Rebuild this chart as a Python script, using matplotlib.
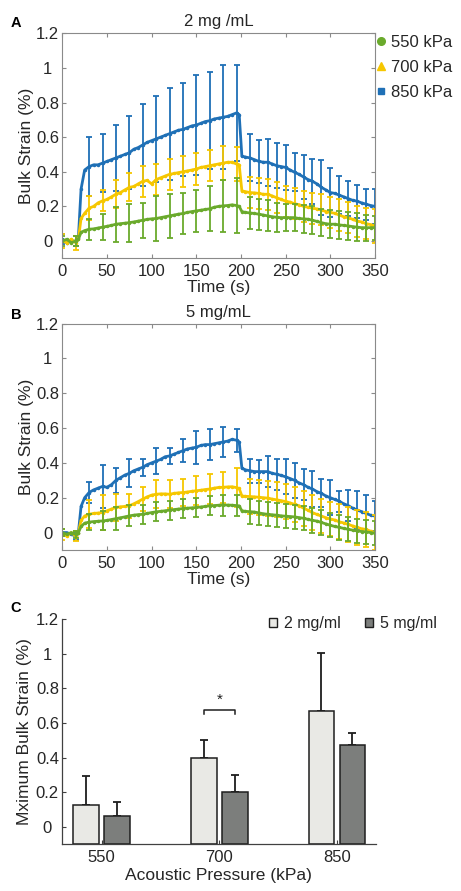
import numpy as np
import matplotlib
matplotlib.use('Agg')
import matplotlib.pyplot as plt
from matplotlib.patches import Patch
from matplotlib.lines import Line2D

plt.rcParams['font.family'] = ['Liberation Sans', 'DejaVu Sans']
TXT = '#262626'
plt.rcParams['text.color'] = TXT
plt.rcParams['axes.labelcolor'] = TXT
plt.rcParams['xtick.color'] = TXT
plt.rcParams['ytick.color'] = TXT

# ---------------- data ----------------
time_s = [0, 5, 10, 15, 18, 21,
          25, 30, 35, 40, 45, 50, 55, 60, 65, 70, 75, 80, 85, 90, 95, 100, 105, 110, 115, 120,
          125, 130, 135, 140, 145, 150, 155, 160, 165, 170, 175, 180, 185, 190, 195,
          198, 201,
          205, 210, 215, 220, 225, 230, 235, 240, 245, 250, 255, 260, 265, 270, 275, 280,
          285, 290, 295, 300, 305, 310, 315, 320, 325, 330, 335, 340, 345, 350]

# Panel A (2 mg/mL)
a_850 = [0.01, -0.01, 0.0, 0.0, 0.02, 0.30,
         0.41, 0.43, 0.44, 0.44, 0.45, 0.46, 0.47, 0.48, 0.49, 0.50,
         0.51, 0.53, 0.54, 0.555, 0.57, 0.58, 0.59, 0.60, 0.61, 0.62,
         0.63, 0.64, 0.645, 0.655, 0.665, 0.67, 0.68, 0.69, 0.695, 0.705,
         0.71, 0.715, 0.72, 0.73, 0.74,
         0.73, 0.49,
         0.485, 0.48, 0.47, 0.46, 0.455, 0.455, 0.445, 0.435, 0.43, 0.425,
         0.41, 0.397, 0.385, 0.37, 0.355, 0.345, 0.33, 0.31, 0.295, 0.28,
         0.275, 0.265, 0.255, 0.245, 0.235, 0.23, 0.22, 0.213, 0.205, 0.20]
a_700 = [0.0, -0.01, 0.01, -0.01, 0.01, 0.13,
         0.16, 0.19, 0.20, 0.22, 0.232, 0.24, 0.255, 0.27, 0.28, 0.295,
         0.31, 0.315, 0.33, 0.345, 0.35, 0.33, 0.355, 0.365, 0.375, 0.385,
         0.39, 0.395, 0.40, 0.405, 0.41, 0.416, 0.425, 0.43, 0.435, 0.44,
         0.445, 0.45, 0.455, 0.455, 0.445,
         0.44, 0.29,
         0.285, 0.28, 0.278, 0.275, 0.27, 0.27, 0.26, 0.25, 0.24, 0.23,
         0.225, 0.215, 0.21, 0.20, 0.195, 0.19, 0.185, 0.18, 0.17, 0.165,
         0.16, 0.15, 0.14, 0.135, 0.125, 0.115, 0.11, 0.10, 0.095, 0.087]
a_550 = [0.0, 0.01, -0.01, 0.0, 0.01, 0.05,
         0.06, 0.068, 0.07, 0.075, 0.08, 0.085, 0.09, 0.097, 0.10, 0.103,
         0.106, 0.11, 0.115, 0.12, 0.125, 0.128, 0.13, 0.135, 0.14, 0.145,
         0.15, 0.155, 0.159, 0.165, 0.17, 0.174, 0.178, 0.182, 0.186, 0.195,
         0.20, 0.203, 0.205, 0.209, 0.205,
         0.20, 0.17,
         0.165, 0.162, 0.159, 0.155, 0.15, 0.145, 0.14, 0.137, 0.135, 0.135,
         0.135, 0.135, 0.13, 0.128, 0.126, 0.12, 0.113, 0.106, 0.10, 0.097,
         0.097, 0.093, 0.09, 0.087, 0.083, 0.08, 0.077, 0.077, 0.077, 0.077]

# Panel B (5 mg/mL)
b_850 = [0.0, 0.0, -0.01, -0.02, 0.0, 0.15,
         0.20, 0.23, 0.245, 0.255, 0.265, 0.26, 0.275, 0.30, 0.315, 0.33,
         0.34, 0.355, 0.365, 0.375, 0.39, 0.40, 0.41, 0.42, 0.435, 0.44,
         0.45, 0.46, 0.47, 0.48, 0.485, 0.49, 0.50, 0.505, 0.505, 0.51,
         0.515, 0.52, 0.525, 0.535, 0.53,
         0.52, 0.37,
         0.36, 0.355, 0.35, 0.35, 0.35, 0.35, 0.34, 0.335, 0.328, 0.32,
         0.31, 0.30, 0.285, 0.275, 0.26, 0.25, 0.235, 0.225, 0.21, 0.20,
         0.19, 0.18, 0.165, 0.155, 0.14, 0.13, 0.12, 0.11, 0.10, 0.095]
b_700 = [-0.01, -0.02, 0.0, -0.02, 0.0, 0.07,
         0.095, 0.105, 0.11, 0.112, 0.115, 0.125, 0.135, 0.144, 0.148, 0.15,
         0.154, 0.165, 0.178, 0.192, 0.205, 0.215, 0.22, 0.222, 0.222, 0.22,
         0.225, 0.228, 0.23, 0.233, 0.237, 0.24, 0.243, 0.247, 0.25, 0.255,
         0.259, 0.26, 0.262, 0.263, 0.258,
         0.253, 0.21,
         0.208, 0.207, 0.205, 0.203, 0.20, 0.198, 0.192, 0.188, 0.183, 0.178,
         0.17, 0.162, 0.154, 0.14, 0.128, 0.115, 0.104, 0.095, 0.085, 0.078,
         0.072, 0.062, 0.055, 0.047, 0.038, 0.03, 0.022, 0.018, 0.008, 0.0]
b_550 = [0.0, -0.01, 0.0, -0.01, 0.0, 0.035,
         0.054, 0.06, 0.063, 0.065, 0.067, 0.07, 0.075, 0.08, 0.085, 0.09,
         0.096, 0.10, 0.103, 0.105, 0.11, 0.115, 0.119, 0.122, 0.125, 0.129,
         0.132, 0.135, 0.138, 0.14, 0.142, 0.144, 0.147, 0.15, 0.154, 0.155,
         0.157, 0.158, 0.158, 0.157, 0.155,
         0.153, 0.125,
         0.122, 0.12, 0.118, 0.113, 0.108, 0.105, 0.102, 0.10, 0.096, 0.094,
         0.092, 0.09, 0.086, 0.082, 0.076, 0.07, 0.066, 0.058, 0.05, 0.042,
         0.035, 0.03, 0.024, 0.019, 0.014, 0.01, 0.006, 0.004, 0.0, -0.004]

err_time = [0, 15, 30, 45, 60, 75, 90, 105, 120, 135, 150, 165, 180, 195,
            210, 220, 230, 240, 250, 260, 270, 280, 290, 300, 310, 320, 330, 340, 350]
a_850_err = [0.03, 0.03, 0.17, 0.166, 0.19, 0.21, 0.235, 0.25, 0.265, 0.27, 0.29, 0.28, 0.30, 0.275,
             0.136, 0.125, 0.135, 0.13, 0.13, 0.11, 0.125, 0.13, 0.16, 0.14, 0.11, 0.10, 0.095, 0.09, 0.10]
a_700_err = [0.04, 0.04, 0.07, 0.06, 0.08, 0.08, 0.09, 0.09, 0.09, 0.09, 0.09, 0.09, 0.10, 0.10,
             0.09, 0.09, 0.09, 0.09, 0.09, 0.09, 0.09, 0.09, 0.09, 0.09, 0.09, 0.09, 0.09, 0.09, 0.10]
a_550_err = [0.03, 0.03, 0.06, 0.077, 0.10, 0.11, 0.10, 0.13, 0.125, 0.12, 0.12, 0.13, 0.15, 0.16,
             0.09, 0.09, 0.09, 0.085, 0.08, 0.08, 0.08, 0.08, 0.08, 0.08, 0.08, 0.08, 0.08, 0.075, 0.07]
b_850_err = [0.02, 0.02, 0.06, 0.125, 0.07, 0.08, 0.05, 0.075, 0.045, 0.065, 0.095, 0.09, 0.085, 0.065,
             0.07, 0.065, 0.09, 0.09, 0.10, 0.10, 0.09, 0.105, 0.08, 0.10, 0.06, 0.09, 0.11, 0.107, 0.087]
b_700_err = [0.03, 0.03, 0.08, 0.10, 0.08, 0.07, 0.07, 0.08, 0.08, 0.08, 0.083, 0.085, 0.09, 0.11,
             0.10, 0.10, 0.10, 0.10, 0.10, 0.10, 0.10, 0.10, 0.10, 0.10, 0.10, 0.10, 0.10, 0.10, 0.10]
b_550_err = [0.02, 0.02, 0.045, 0.055, 0.065, 0.06, 0.055, 0.055, 0.055, 0.055, 0.055, 0.055, 0.06, 0.06,
             0.07, 0.07, 0.07, 0.07, 0.07, 0.07, 0.07, 0.07, 0.07, 0.07, 0.07, 0.07, 0.07, 0.07, 0.07]

pressure_labels = ['550', '700', '850']
series_labels = ['550 kPa', '700 kPa', '850 kPa']
max_2mg = [0.125, 0.395, 0.671]
max_2mg_err = [0.168, 0.105, 0.332]
max_5mg = [0.062, 0.199, 0.473]
max_5mg_err = [0.083, 0.101, 0.071]
conc_labels = ['2 mg/ml', '5 mg/ml']
sig_level = 0.675

ytick_vals = [0, 0.2, 0.4, 0.6, 0.8, 1.0, 1.2]
ytick_labels = ['0', '0.2', '0.4', '0.6', '0.8', '1', '1.2']
xtick_vals = [0, 50, 100, 150, 200, 250, 300, 350]

# ---------------- style ----------------
C550 = '#6aaa2c'
C700 = '#f6c700'
C850 = '#1f70b6'
SPINE = '#8a8a8a'
W, H = 461, 891
FS = 12

fig = plt.figure(figsize=(W / 100, H / 100), dpi=100)


def frac(left, top, right, bottom):
    return [left / W, 1 - bottom / H, (right - left) / W, (bottom - top) / H]


def ts_panel(ax, series, errs, title):
    for vals, ee, c in zip(series, errs, [C850, C700, C550]):
        ax.plot(time_s, vals, '-', color=c, lw=2.0, marker='.', ms=3, zorder=2)
        ev = [vals[time_s.index(t)] for t in err_time]
        ax.errorbar(err_time, ev, yerr=ee, fmt='none', ecolor=c, elinewidth=1.3,
                    capsize=2.5, capthick=1.3, zorder=2)
    ax.set_xlim(0, 350)
    ax.set_ylim(-0.1, 1.2)
    ax.set_xticks(xtick_vals)
    ax.set_yticks(ytick_vals)
    ax.set_yticklabels(ytick_labels, ha='center')
    ax.tick_params(direction='in', top=True, right=True, length=3, width=0.8,
                   color=SPINE, labelsize=FS)
    ax.tick_params(axis='x', pad=4)
    ax.tick_params(axis='y', pad=10.5)
    for s in ax.spines.values():
        s.set_color(SPINE)
        s.set_linewidth(0.8)
    ax.set_title(title, fontsize=FS, pad=5, color=TXT)
    ax.set_xlabel('Time (s)', fontsize=12.5)
    ax.set_ylabel('Bulk Strain (%)', fontsize=12.5)
    ax.xaxis.set_label_coords(0.5, -0.13)
    ax.xaxis.label.set_va('center')
    ax.yaxis.set_label_coords(-0.116, 0.5)
    ax.yaxis.label.set_va('center')


axA = fig.add_axes(frac(62.3, 33.3, 375, 258.3))
ts_panel(axA, [a_850, a_700, a_550], [a_850_err, a_700_err, a_550_err], '2 mg /mL')

axB = fig.add_axes(frac(62.3, 323.5, 375, 550))
ts_panel(axB, [b_850, b_700, b_550], [b_850_err, b_700_err, b_550_err], '5 mg/mL')

handles = [Line2D([], [], ls='none', marker='o', color=C550, ms=5.5),
           Line2D([], [], ls='none', marker='^', color=C700, ms=6),
           Line2D([], [], ls='none', marker='s', color=C850, ms=4.5)]
fig.legend(handles, series_labels, loc='upper left', bbox_to_anchor=(376 / W, 1 - 35 / H),
           frameon=False, fontsize=FS, handlelength=0.6, handletextpad=0.3,
           labelspacing=0.6, borderaxespad=0, borderpad=0)

# ---------------- panel C ----------------
axC = fig.add_axes(frac(62, 619.3, 375.7, 844))
x = np.arange(len(pressure_labels))
bw = 0.218
off = 0.132
ymin = -0.1
LIGHT = '#e9e9e5'
DARK = '#7c7e7c'
EDGE = '#1e1e1e'
axC.bar(x - off, np.array(max_2mg) - ymin, bottom=ymin, width=bw, color=LIGHT,
        edgecolor=EDGE, linewidth=1.1, zorder=2)
axC.bar(x + off, np.array(max_5mg) - ymin, bottom=ymin, width=bw, color=DARK,
        edgecolor=EDGE, linewidth=1.1, zorder=2)
axC.errorbar(x - off, max_2mg, yerr=[np.zeros(3), max_2mg_err], fmt='none', ecolor=EDGE,
             elinewidth=1.3, capsize=3, capthick=1.3, zorder=1)
axC.errorbar(x + off, max_5mg, yerr=[np.zeros(3), max_5mg_err], fmt='none', ecolor=EDGE,
             elinewidth=1.3, capsize=3, capthick=1.3, zorder=1)
# significance bracket between the 700 kPa bars
xb1, xb2 = x[1] - off, x[1] + off
axC.plot([xb1, xb1, xb2, xb2], [sig_level - 0.02, sig_level, sig_level, sig_level - 0.02],
         color=EDGE, lw=1.1)
axC.text(x[1], sig_level + 0.06, '*', ha='center', va='center', fontsize=11, color=EDGE)

axC.set_xlim(-0.338, 2.33)
axC.set_ylim(-0.1, 1.2)
axC.set_xticks(x)
axC.set_xticklabels(pressure_labels)
axC.set_yticks(ytick_vals)
axC.set_yticklabels(ytick_labels, ha='center')
axC.tick_params(direction='in', length=3, width=0.8, color='#404040', labelsize=FS)
axC.tick_params(axis='x', pad=4)
axC.tick_params(axis='y', pad=10.5)
for k in ['top', 'right']:
    axC.spines[k].set_visible(False)
for k in ['left', 'bottom']:
    axC.spines[k].set_color('#404040')
    axC.spines[k].set_linewidth(0.9)
axC.set_xlabel('Acoustic Pressure (kPa)', fontsize=12.5)
axC.set_ylabel('Mximum Bulk Strain (%)', fontsize=12.5)
axC.xaxis.set_label_coords(0.5, -0.138)
axC.xaxis.label.set_va('center')
axC.yaxis.set_label_coords(-0.121, 0.5)
axC.yaxis.label.set_va('center')

fig.legend([Patch(facecolor=LIGHT, edgecolor=EDGE, linewidth=1.0),
            Patch(facecolor=DARK, edgecolor=EDGE, linewidth=1.0)], conc_labels,
           ncol=2, loc='upper left', bbox_to_anchor=(269 / W, 1 - 616 / H), frameon=False,
           fontsize=11.5, handlelength=0.5, handleheight=0.5, handletextpad=0.45,
           columnspacing=1.5, borderaxespad=0, borderpad=0)

# panel letters
for letter, yy in [('A', 23), ('B', 315), ('C', 608)]:
    fig.text(16 / W, 1 - yy / H, letter, ha='center', va='center', fontsize=10.5,
             fontweight='bold', color='black')

fig.savefig('out.png', dpi=100)
